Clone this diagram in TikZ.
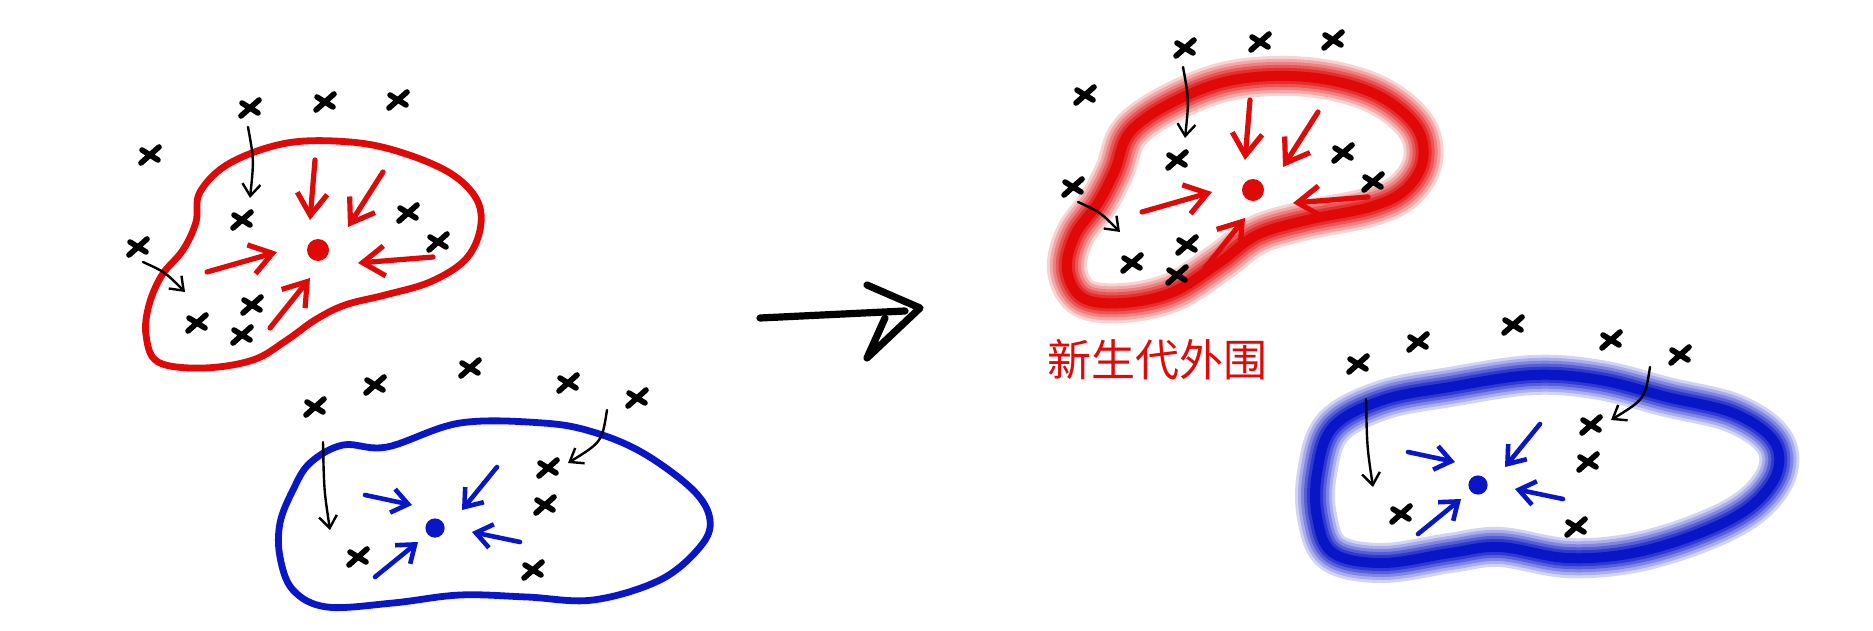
\documentclass[tikz,border=0pt]{standalone}
\usepackage{fontspec}
\usepackage{tikz}
\usetikzlibrary{arrows.meta}
\newfontfamily\cjk{Noto Sans CJK SC}
\definecolor{SketchRed}{RGB}{225,8,8}
\definecolor{SketchBlue}{RGB}{8,22,200}
\tikzset{
  xmark/.pic={\draw[line width=2.8pt,line cap=round](-9,8)--(9,-8)(-8,-5)--(8,5);},
  redarrow/.style={SketchRed,line width=2.6pt,line cap=round,-{Straight Barb[length=11pt,width=15pt,line width=2.6pt]}},
  bluearrow/.style={SketchBlue,line width=2.3pt,line cap=round,-{Straight Barb[length=8pt,width=12pt,line width=2.3pt]}},
  blkarrow/.style={black,line width=1.2pt,line cap=round,-{Straight Barb[length=6pt,width=9pt,line width=1.2pt]}},
}
% red cluster contents (points, dot, arrows)
\newcommand\redcluster{%
  \foreach \p in {(250,108),(325,102),(398,100),(150,155),(242,220),(408,213),
                  (438,242),(138,247),(252,305),(197,323),(242,335)}
    \pic at \p {xmark};
  \fill[SketchRed](318,250)circle(5.5pt);
  \draw[redarrow](315,160)--(310,220);
  \draw[redarrow](383,172)--(348,227);
  \draw[redarrow](207,272)--(277,252);
  \draw[redarrow](433,257)--(358,263);
  \draw[redarrow](270,328)--(310,278);
  \draw[blkarrow](248,127)..controls(254,160)..(250,198);
  \draw[blkarrow](143,262)..controls(165,272)..(185,292);
}
% blue cluster contents
\newcommand\bluecluster{%
  \foreach \p in {(315,407),(375,385),(470,368),(568,383),(637,398),
                  (548,468),(545,505),(358,557),(533,570)}
    \pic at \p {xmark};
  \fill[SketchBlue](435,528)circle(4.8pt);
  \draw[bluearrow](365,495)--(412,505);
  \draw[bluearrow](497,467)--(462,510);
  \draw[bluearrow](520,542)--(472,532);
  \draw[bluearrow](375,577)--(418,542);
  \draw[blkarrow](323,442)..controls(324,490)..(330,530);
  \draw[blkarrow](607,410)..controls(602,442)..(568,463);
}
\begin{document}
\begin{tikzpicture}[x=0.5pt,y=-0.5pt]
\useasboundingbox[fill=white](0,0)rectangle(1873,631);
% left: before
\draw[SketchRed,line width=3.4pt]plot[smooth cycle,tension=0.6]coordinates{
  (200,192)(230,163)(287,143)(350,142)(400,152)(450,173)(477,200)(480,230)
  (465,260)(430,282)(385,295)(345,305)(315,320)(287,340)(253,360)(203,368)
  (158,362)(146,335)(149,305)(162,275)(183,250)(196,222)};
\redcluster
\draw[SketchBlue,line width=3.4pt]plot[smooth cycle,tension=0.6]coordinates{
  (293,490)(310,463)(343,445)(387,447)(460,423)(543,423)(593,432)(643,453)
  (693,490)(710,520)(700,547)(660,580)(593,600)(527,597)(460,595)(393,603)
  (327,607)(293,590)(280,557)(280,523)};
\bluecluster
% big arrow
\draw[line width=3.6pt,line cap=round,line join=round](760,318)--(905,311);
\draw[line width=3.6pt,line cap=round,line join=round](867,285)--(920,308)--(867,358)--(885,318);
% right: after, with thick fuzzy boundary
\foreach \w/\o in {20pt/0.18,17pt/0.2,14pt/0.25,11pt/0.35,8pt/0.5,5pt/1}{
  \draw[SketchRed,line width=\w,opacity=\o]plot[smooth cycle,tension=0.6]coordinates{
    (1098,203)(1115,170)(1130,132)(1173,102)(1233,80)(1307,77)(1373,93)(1415,125)
    (1423,160)(1405,190)(1370,207)(1307,220)(1257,235)(1220,262)(1173,292)
    (1123,303)(1083,298)(1067,270)(1075,235)};
  \draw[SketchBlue,line width=\w,opacity=\o]plot[smooth cycle,tension=0.6]coordinates{
    (1317,473)(1333,427)(1383,400)(1450,387)(1533,375)(1600,380)(1667,397)
    (1733,413)(1773,440)(1777,473)(1750,507)(1700,533)(1633,553)(1567,558)
    (1500,547)(1450,553)(1383,563)(1333,553)(1317,517)};
}
\begin{scope}[shift={(935,-60)}]
\redcluster
\end{scope}
\begin{scope}[shift={(1043,-43)}]
\bluecluster
\end{scope}
\node[SketchRed,font=\cjk\fontsize{22pt}{22pt}\selectfont](label)at(1157,360){新生代外围};
\end{tikzpicture}
\end{document}
